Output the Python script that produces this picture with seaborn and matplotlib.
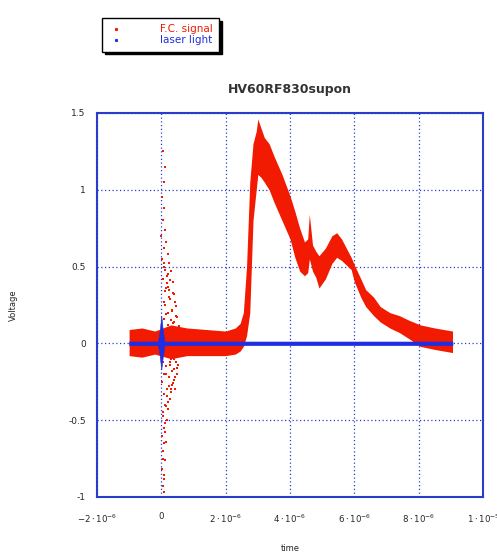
import numpy as np
import pandas as pd
import seaborn as sns
import matplotlib.pyplot as plt
from matplotlib.lines import Line2D

# time in microseconds, voltage in V
fc_time = [-1.0, -0.6, -0.2, 0.3, 0.8, 1.4, 2.0, 2.3, 2.45, 2.55, 2.65, 2.75, 2.85, 2.95,
           3.0, 3.1, 3.2, 3.35, 3.5, 3.75, 4.0, 4.15, 4.3, 4.45, 4.55, 4.6, 4.7, 4.8,
           4.9, 5.1, 5.3, 5.45, 5.6, 5.8, 5.9, 6.0, 6.2, 6.35, 6.6, 6.8, 7.1, 7.4,
           7.7, 8.05, 8.5, 9.05]
fc_upper = [0.09, 0.1, 0.08, 0.12, 0.1, 0.09, 0.08, 0.1, 0.13, 0.2, 0.5, 1.05, 1.3, 1.38,
            1.46, 1.4, 1.34, 1.3, 1.22, 1.1, 0.96, 0.86, 0.75, 0.66, 0.68, 0.84, 0.64, 0.6,
            0.57, 0.62, 0.7, 0.72, 0.68, 0.6, 0.56, 0.51, 0.42, 0.35, 0.3, 0.24, 0.2, 0.18,
            0.15, 0.12, 0.1, 0.08]
fc_lower = [-0.08, -0.09, -0.07, -0.1, -0.08, -0.08, -0.08, -0.07, -0.05, -0.02, 0.05, 0.2, 0.8, 1.0,
            1.1, 1.08, 1.05, 1.0, 0.92, 0.8, 0.68, 0.56, 0.47, 0.44, 0.46, 0.55, 0.47, 0.43,
            0.36, 0.42, 0.52, 0.56, 0.54, 0.5, 0.48, 0.40, 0.3, 0.24, 0.18, 0.14, 0.1, 0.07,
            0.03, -0.02, -0.04, -0.06]

# scattered burst of the F.C. signal just after t = 0
burst_t = [0.05, 0.08, 0.02, 0.1, 0.05, 0.12, 0.0, 0.15, 0.08, 0.2, 0.03, 0.25, 0.1, 0.3,
           0.18, 0.05, 0.35, 0.22, 0.12, 0.4, 0.28, 0.08, 0.45, 0.32, 0.15, 0.5, 0.38, 0.2,
           0.55, 0.05, 0.3, 0.45, 0.15, 0.38, 0.1, 0.25, 0.5, 0.02, 0.32, 0.18, 0.42, 0.08,
           0.28, 0.12, 0.22, 0.05, 0.17, 0.1, 0.02, 0.14, 0.06, 0.11, 0.03, 0.08, 0.04, 0.09,
           0.2, 0.27, 0.35, 0.42, 0.16, 0.24, 0.33, 0.47, 0.13, 0.21, 0.29, 0.37, 0.1, 0.19,
           0.26, 0.34, 0.41, 0.48, 0.23, 0.31, 0.15, 0.27, 0.36, 0.44, 0.52, 0.2, 0.3, 0.4,
           0.07, 0.13, 0.18, 0.25, 0.06, 0.12, 0.19, 0.09, 0.16, 0.04, 0.11, 0.07, 0.13]
burst_v = [1.25, 1.05, 0.95, 0.88, 0.8, 0.74, 0.7, 0.66, 0.62, 0.58, 0.55, 0.52, 0.5, 0.47,
           0.44, 0.42, 0.4, 0.37, 0.34, 0.32, 0.29, 0.27, 0.24, 0.21, 0.19, 0.17, 0.14, 0.12,
           0.11, -0.12, -0.1, -0.12, -0.15, -0.17, -0.2, -0.22, -0.2, -0.25, -0.27, -0.3,
           -0.3, -0.33, -0.36, -0.4, -0.43, -0.47, -0.5, -0.55, -0.6, -0.64, -0.7, -0.76,
           -0.82, -0.88, -0.93, -0.97,
           0.45, 0.41, 0.33, 0.27, 0.36, 0.3, 0.22, 0.18, 0.25, 0.2, 0.15, 0.13, 0.16, 0.09,
           -0.14, -0.18, -0.24, -0.16, -0.28, -0.32, -0.2, -0.12, -0.26, -0.22, -0.14, -0.38,
           -0.3, -0.1,
           0.52, 0.48, 0.39, 0.35, -0.45, -0.52, -0.34, -0.65, -0.41, -0.75, -0.58, -0.86, 1.15]

laser_time = [-1.0, -0.1, -0.05, 0.0, 0.05, 0.1, 9.05]
laser_upper = [0.012, 0.012, 0.08, 0.18, 0.08, 0.012, 0.012]
laser_lower = [-0.012, -0.012, -0.08, -0.17, -0.08, -0.012, -0.012]

x_ticks = [-2, 0, 2, 4, 6, 8, 10]
x_labels = [r"$-2\cdot10^{-6}$", "0", r"$2\cdot10^{-6}$", r"$4\cdot10^{-6}$",
            r"$6\cdot10^{-6}$", r"$8\cdot10^{-6}$", r"$1\cdot10^{-5}$"]
y_ticks = [-1, -0.5, 0, 0.5, 1, 1.5]
y_labels = ["-1", "-0.5", "0", "0.5", "1", "1.5"]

red = "#f21a00"
blue = "#1f2ee0"
frame = "#2a3ccc"

sns.set_theme(style="white")
fig = plt.figure(figsize=(4.97, 5.59), dpi=100)
ax = fig.add_axes([0.195, 0.111, 0.777, 0.687])

ax.fill_between(fc_time, fc_lower, fc_upper, color=red, linewidth=0)
burst = pd.DataFrame({"t": burst_t, "v": burst_v})
sns.scatterplot(data=burst, x="t", y="v", color=red, s=3.5, marker="s", linewidth=0, ax=ax)
ax.fill_between(laser_time, laser_lower, laser_upper, color=blue, linewidth=0.4, edgecolor=blue)

ax.set_xlim(-2, 10)
ax.set_ylim(-1, 1.5)
ax.set_xticks(x_ticks)
ax.set_xticklabels(x_labels, fontsize=6.2)
ax.set_yticks(y_ticks)
ax.set_yticklabels(y_labels, fontsize=6.5)
ax.tick_params(direction="in", length=4, color=frame, width=1.2, pad=8)
ax.tick_params(axis="x", pad=11)
ax.grid(True, color=frame, linestyle=(0, (1, 2)), linewidth=0.9)
for s in ax.spines.values():
    s.set_color(frame)
    s.set_linewidth(1.5)

ax.set_xlabel("time", fontsize=6, labelpad=14)
ax.set_ylabel("Voltage", fontsize=6, labelpad=36)
ax.set_title("HV60RF830supon", fontsize=9, fontweight="bold", color="#333333", pad=14)

handles = [Line2D([], [], linestyle="none", marker="s", markersize=1.2, color=red),
           Line2D([], [], linestyle="none", marker="s", markersize=1.2, color=blue)]
leg = fig.legend(handles, ["F.C. signal", "laser light"], loc="upper left",
                 bbox_to_anchor=(0.195, 0.977), fontsize=7.5, frameon=True, fancybox=False,
                 shadow={"color": "black", "alpha": 1}, borderpad=0.6, handletextpad=3.5,
                 labelspacing=0.1, handlelength=1.5)
leg.get_frame().set_edgecolor("black")
leg.get_frame().set_linewidth(1)
for txt, c in zip(leg.get_texts(), [red, blue]):
    txt.set_color(c)

fig.savefig("out.png", dpi=100)
